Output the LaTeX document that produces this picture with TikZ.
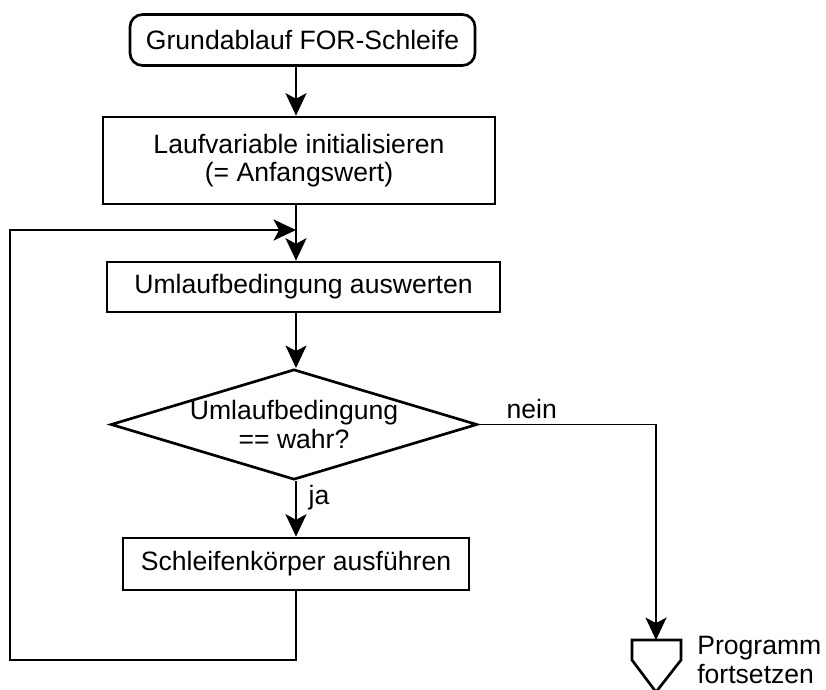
\documentclass[tikz,border=0pt]{standalone}
\usepackage{fontspec}
\setmainfont{Liberation Sans}
\usetikzlibrary{arrows.meta,shapes.geometric}

\begin{document}
\begin{tikzpicture}[x=0.025cm,y=-0.025cm] % pixel grid, y downwards
    \tikzstyle{every node}=[font=\fontsize{18.9}{20}\selectfont]
    \tikzstyle{box}=[draw, line width=1.9pt, align=center, inner sep=0pt]
    \tikzstyle{wire}=[line width=1.4pt]
    \tikzstyle{flow}=[wire, -{Stealth[length=16pt,width=15pt,inset=4pt]}]
    \useasboundingbox (0,0) rectangle (826,689);
    \coordinate (spine) at (296,0);
    \node [box, rounded corners=9pt, minimum width=8.625cm, minimum height=1.275cm] (start) at (302.5,40) {Grundablauf FOR-Schleife};
    \node [box, minimum width=9.8cm, minimum height=2.175cm] (init) at (299,160.5) {Laufvariable initialisieren\\(= Anfangswert)};
    \node [box, minimum width=9.825cm, minimum height=1.25cm] (cond) at (303.5,287) {Umlaufbedingung auswerten};
    \node [box, diamond, aspect=3.32, minimum width=9.05cm, minimum height=2.725cm] (test) at (294,424.5) {Umlaufbedingung\\== wahr?};
    \node [box, minimum width=8.65cm, minimum height=1.3cm] (body) at (296,564) {Schleifenkörper ausführen};
    \coordinate (join) at (296,230);
    \coordinate (back) at (10,660);
    \coordinate (prog) at (656,640);
    \draw [flow] (start.south -| spine) -- (init.north -| spine);
    \draw [flow] (init.south -| spine) -- (cond.north -| spine);
    \draw [flow] (cond.south -| spine) -- (test.north -| spine);
    \draw [flow] (test.south -| spine) -- node[right=5pt, pos=0.3] {ja} (body.north -| spine);
    \draw [flow] (body.south -| spine) |- (back) |- (join);
    \draw [flow] (test.east) -| node[pos=0.15, above] {nein} (prog);
    % off-page connector
    \draw [line width=1.9pt] (prog) +(-24,0) -- +(25,0) -- +(25,20) -- +(0,52) -- +(-24,20) -- cycle;
    \node [anchor=base west, align=left, inner sep=0pt] (progtext) at (697,683) {Programm\\fortsetzen};
\end{tikzpicture}
\end{document}
